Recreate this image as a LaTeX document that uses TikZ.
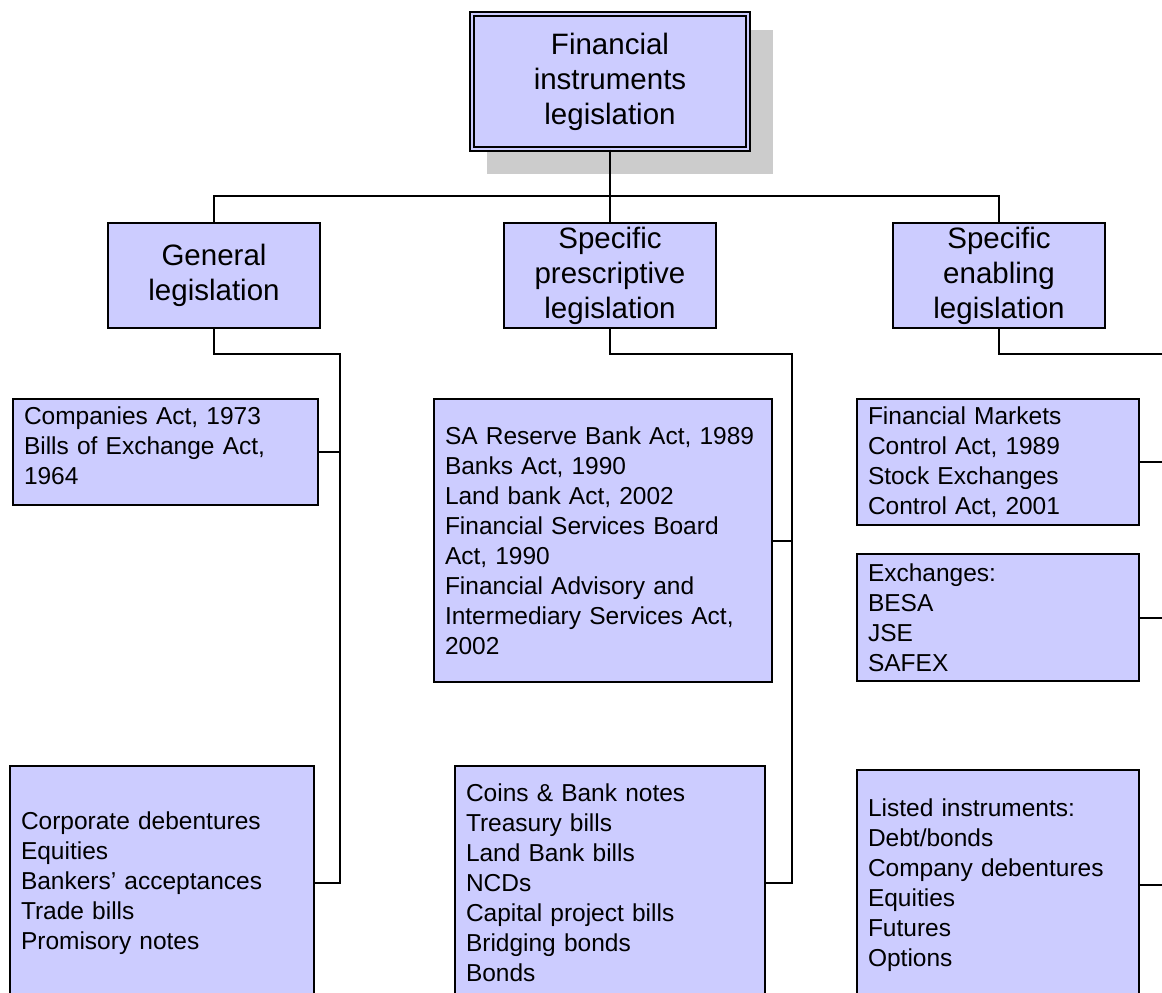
\documentclass[tikz,border=0pt]{standalone}
\usepackage{fontspec}
\setmainfont{Liberation Sans}
\usetikzlibrary{calc,backgrounds}
\definecolor{boxfill}{RGB}{204,204,255}
\definecolor{shadowgray}{RGB}{204,204,204}
\newcommand{\headfont}{\fontsize{29.5pt}{35pt}\selectfont}
\newcommand{\leaffont}{\fontsize{24.5pt}{30pt}\selectfont}
\tikzset{
  headbox/.style={draw=black,line width=1.9pt,fill=boxfill,align=center,
                  font=\headfont,inner sep=0pt,minimum width=212pt,minimum height=105pt},
  leafbox/.style={draw=black,line width=1.9pt,fill=boxfill,align=left,
                  font=\leaffont,inner xsep=11pt,inner ysep=0pt},
  link/.style={line width=2pt,black}
}

\begin{document}
\begin{tikzpicture}[x=1pt,y=-1pt]
  \useasboundingbox (0,0) rectangle (1162,993);
  \clip (0,0) rectangle (1162,993);
  % top of the tree
  \node[headbox,line width=1.3pt,double=boxfill,double distance=2.6pt,
        minimum width=276pt,minimum height=135pt] (root) at (610,81.5) {Financial\\instruments\\legislation};
  \begin{scope}[on background layer]
    \fill[shadowgray] ([shift={(16,17)}]root.north west) rectangle ([shift={(24,24)}]root.south east);
  \end{scope}
  % second level
  \node[headbox] (gen) at (214,275.5) {General\\legislation};
  \node[headbox] (pre) at (610,275.5) {Specific\\prescriptive\\legislation};
  \node[headbox] (ena) at (999,275.5) {Specific\\enabling\\legislation};
  % leaves
  \node[leafbox,text width=283pt,minimum height=106pt] (comp) at (165.5,452)
    {Companies Act, 1973\\Bills of Exchange Act,\\1964\\[-18pt]\mbox{}};
  \node[leafbox,text width=282pt,minimum height=234pt] (corp) at (162,883)
    {Corporate debentures\\Equities\\Bankers’ acceptances\\Trade bills\\Promisory notes};
  \node[leafbox,text width=316pt,minimum height=283pt] (sarb) at (603,540.5)
    {SA Reserve Bank Act, 1989\\Banks Act, 1990\\Land bank Act, 2002\\Financial Services Board\\Act, 1990\\Financial Advisory and\\Intermediary Services Act,\\2002};
  \node[leafbox,text width=288pt,minimum height=234pt] (coins) at (610,883)
    {Coins \& Bank notes\\Treasury bills\\Land Bank bills\\NCDs\\Capital project bills\\Bridging bonds\\Bonds};
  \node[leafbox,text width=260pt,minimum height=126pt] (fmca) at (998,462)
    {Financial Markets\\Control Act, 1989\\Stock Exchanges\\Control Act, 2001};
  \node[leafbox,text width=260pt,minimum height=127pt] (exch) at (998,617.5)
    {Exchanges:\\BESA\\JSE\\SAFEX};
  \node[leafbox,text width=260pt,minimum height=230pt] (listed) at (998,885)
    {Listed instruments:\\Debt/bonds\\Company debentures\\Equities\\Futures\\Options};
  % connectors
  \coordinate (bus) at (610,196);
  \draw[link] (root.south) -- (pre.north);
  \draw[link] (gen.north) |- (bus) -| (ena.north);
  \coordinate (gtop) at (340,354);
  \draw[link] (gen.south) |- (gtop) |- (corp.east);
  \draw[link] (comp.east) -- (comp.east -| gtop);
  \coordinate (ptop) at (792,354);
  \draw[link] (pre.south) |- (ptop) |- (coins.east);
  \draw[link] (sarb.east) -- (sarb.east -| ptop);
  \coordinate (etop) at (1175,354);
  \draw[link] (ena.south) |- (etop) |- (listed.east);
  \draw[link] (fmca.east) -- (fmca.east -| etop);
  \draw[link] (exch.east) -- (exch.east -| etop);
\end{tikzpicture}
\end{document}
